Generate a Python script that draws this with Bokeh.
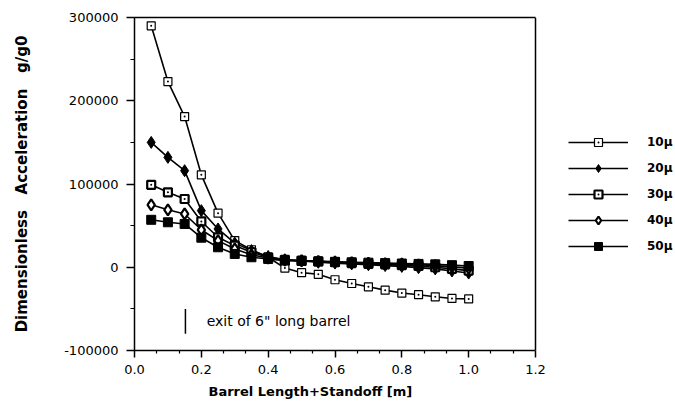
from bokeh.plotting import figure
from bokeh.models import (FixedTicker, PrintfTickFormatter, Legend, LegendItem,
                          LinearAxis, Title)
from bokeh.embed import file_html
from bokeh.resources import INLINE
from bokeh.core.properties import value

# ---- data ----
x = [0.05, 0.10, 0.15, 0.20, 0.25, 0.30, 0.35, 0.40, 0.45, 0.50,
     0.55, 0.60, 0.65, 0.70, 0.75, 0.80, 0.85, 0.90, 0.95, 1.00]
a10 = [290000, 223000, 181000, 111000, 65000, 32000, 21000, 12000, -1000, -6500,
       -8500, -15000, -19500, -23500, -27500, -31000, -33000, -35500, -37500, -38000]
a20 = [150000, 132000, 116000, 68000, 46000, 29000, 20000, 13000, 9000, 7500,
       6000, 5000, 4000, 3000, 2000, 1000, -500, -2000, -4500, -7000]
a30 = [99000, 90000, 82000, 55000, 36000, 26000, 18000, 12000, 9000, 8000,
       7000, 6000, 5000, 4000, 3500, 2500, 1500, 0, -2000, -4000]
a40 = [75000, 69000, 64000, 45000, 32000, 22000, 15000, 11000, 8500, 8000,
       7000, 6500, 5500, 5000, 4500, 4000, 3000, 2000, 500, -1000]
a50 = [57000, 54000, 52000, 35500, 24000, 16000, 12000, 10000, 8000, 7500,
       7000, 6500, 6000, 5500, 5000, 4500, 4000, 3500, 2500, 1500]
labels = ["10\u03bc", "20\u03bc", "30\u03bc", "40\u03bc", "50\u03bc"]

x_ticks = [0.0, 0.2, 0.4, 0.6, 0.8, 1.0, 1.2]
y_ticks = [-100000, 0, 100000, 200000, 300000]
x_min, x_max = 0.0, 1.2
y_min, y_max = -100000, 300000

note_x = [0.216]
note_y = [-65000]
note_text = ["exit of 6\" long barrel"]
bar_x = [0.1524]
bar_y0 = [-50000]
bar_y1 = [-80000]

FONT = "DejaVu Sans"

# frame spans to the right edge so that the legend (outside the box) is not clipped
LEFT, BOX_W, W = 134, 401, 675
x_view_end = x_max * (W - LEFT) / BOX_W

p = figure(width=W, height=417, output_backend="svg", toolbar_location=None,
           x_range=(x_min, x_view_end), y_range=(y_min, y_max),
           min_border_left=LEFT, min_border_right=0, min_border_top=17,
           min_border_bottom=67)
p.xgrid.visible = False
p.ygrid.visible = False
p.outline_line_color = None
p.background_fill_color = "white"
p.border_fill_color = "white"

minor_x = [i / 15 for i in range(0, 19) if i % 3 != 0]
p.xaxis.ticker = FixedTicker(ticks=x_ticks, minor_ticks=minor_x)
minor_y = [-50000, 50000, 150000, 250000]
p.yaxis.ticker = FixedTicker(ticks=y_ticks, minor_ticks=minor_y)
p.xaxis.formatter = PrintfTickFormatter(format="%.1f")
p.yaxis.formatter = PrintfTickFormatter(format="%d")
p.xaxis.bounds = (x_min, x_max)

for ax in (p.xaxis[0], p.yaxis[0]):
    ax.axis_line_color = "black"
    ax.axis_line_width = 1.5
    ax.major_tick_line_width = 1.5
    ax.minor_tick_line_width = 1.2
    ax.major_tick_in = 0
    ax.minor_tick_in = 0
    ax.major_label_text_font = FONT
    ax.major_label_text_font_size = "13px"
    ax.major_label_text_color = "black"
    ax.axis_label_text_font = FONT
    ax.axis_label_text_font_style = "bold"
    ax.axis_label_text_color = "black"

p.xaxis.major_tick_out = 7
p.xaxis.minor_tick_out = 3
p.yaxis.major_tick_out = 8
p.yaxis.minor_tick_out = 4
p.xaxis.major_label_standoff = 7
p.yaxis.major_label_standoff = 8
p.yaxis.axis_label = ("Dimensionless\u00a0\u00a0\u00a0Acceleration"
                      "\u00a0\u00a0\u00a0g/g0")
p.yaxis.axis_label_text_font_size = "15px"
p.yaxis.axis_label_standoff = 30

# x title, placed under the box (not under the whole frame)
xt = Title(text="Barrel Length+Standoff [m]", align="left", offset=74,
           text_font=FONT, text_font_style="bold", text_font_size="13px",
           text_color="black", standoff=10)
p.add_layout(xt, "below")

# top edge of the box
top = LinearAxis(bounds=(x_min, x_max), major_tick_line_color=None,
                 minor_tick_line_color=None, major_label_text_font_size="0px",
                 axis_line_width=1.5, axis_line_color="black")
top.ticker = FixedTicker(ticks=[])
p.add_layout(top, "above")
# right edge of the box
p.segment(x0=[x_max], y0=[y_min], x1=[x_max], y1=[y_max], line_color="black",
          line_width=1.5)

LW = 1.6
l1 = p.line(x, a10, line_color="black", line_width=LW)
m1 = p.scatter(x, a10, marker="square_dot", size=8, fill_color="white",
               line_color="black", line_width=1.2)
l2 = p.line(x, a20, line_color="black", line_width=LW)
m2 = p.scatter(x, a20, marker="diamond", size=12, fill_color="black",
               line_color="black")
l3 = p.line(x, a30, line_color="black", line_width=LW)
m3 = p.scatter(x, a30, marker="square_dot", size=8, fill_color="white",
               line_color="black", line_width=2.2)
l4 = p.line(x, a40, line_color="black", line_width=LW)
m4 = p.scatter(x, a40, marker="diamond", size=11, fill_color="white",
               line_color="black", line_width=2.2)
l5 = p.line(x, a50, line_color="black", line_width=LW)
m5 = p.scatter(x, a50, marker="square", size=9, fill_color="black",
               line_color="black")

p.segment(x0=bar_x, y0=bar_y0, x1=bar_x, y1=bar_y1, line_color="black",
          line_width=1.5)
p.text(x=note_x, y=note_y, text=note_text, text_font=value(FONT),
       text_font_size="14px", text_baseline="middle", text_align="left",
       text_color="black")

items = [LegendItem(label=labels[0], renderers=[l1, m1]),
         LegendItem(label=labels[1], renderers=[l2, m2]),
         LegendItem(label=labels[2], renderers=[l3, m3]),
         LegendItem(label=labels[3], renderers=[l4, m4]),
         LegendItem(label=labels[4], renderers=[l5, m5])]
legend = Legend(items=items, location=(434, 94), glyph_width=60,
                glyph_height=20, label_height=20, spacing=6, padding=0,
                margin=0, label_standoff=19, border_line_alpha=0,
                background_fill_alpha=0, label_text_font=FONT,
                label_text_font_style="bold", label_text_font_size="12px",
                label_text_color="black")
p.add_layout(legend, "center")

open("out.html", "w").write(file_html(p, INLINE))
